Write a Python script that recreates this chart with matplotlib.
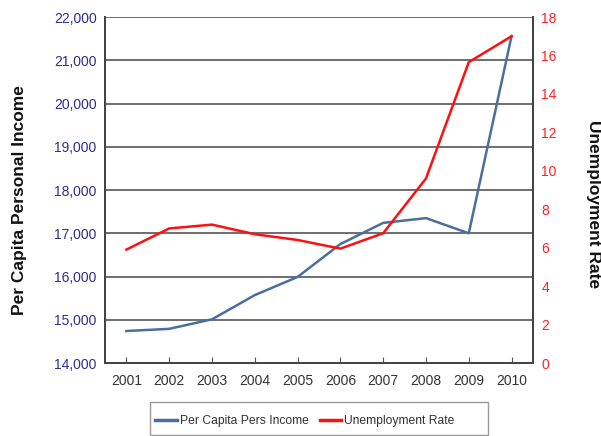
import matplotlib.pyplot as plt
from matplotlib.patches import Rectangle
from matplotlib.ticker import FuncFormatter

plt.rcParams['font.family'] = ['Liberation Sans', 'DejaVu Sans']

years = ['2001', '2002', '2003', '2004', '2005', '2006', '2007', '2008', '2009', '2010']
income = [14740, 14790, 15010, 15570, 15990, 16750, 17240, 17350, 17000, 21560]
unemployment = [5.9, 7.0, 7.2, 6.7, 6.4, 5.95, 6.75, 9.6, 15.65, 17.0]

fig = plt.figure(figsize=(6.01, 4.36), dpi=100)
ax = fig.add_axes([0.1747, 0.1674, 0.7121, 0.7936])
ax2 = ax.twinx()

x = list(range(len(years)))
l1, = ax.plot(x, income, color='#4a6f9f', linewidth=1.8, label='Per Capita Pers Income')
l2, = ax2.plot(x, unemployment, color='#ff1010', linewidth=1.8, label='Unemployment Rate')

ax.set_xlim(-0.5, len(years) - 0.5)
ax.set_ylim(14000, 22000)
ax.set_yticks(range(14000, 22001, 1000))
ax.yaxis.set_major_formatter(FuncFormatter(lambda v, p: f'{int(v):,}'))
ax2.set_ylim(0, 18)
ax2.set_yticks(range(0, 19, 2))

ax.set_xticks(x)
ax.set_xticklabels(years)
ax.grid(axis='y', color='#555555', linewidth=1.2)
ax.set_axisbelow(True)

ax.tick_params(axis='x', direction='in', length=4, colors='#555555', labelcolor='#333333',
               labelsize=10, pad=8)
ax.tick_params(axis='y', length=0, labelcolor='#2e2e8f', labelsize=10, pad=6)
ax2.tick_params(axis='y', length=0, labelcolor='#ff2020', labelsize=10, pad=6)

for a in (ax, ax2):
    a.spines['top'].set_visible(False)
    for s in ('left', 'right', 'bottom'):
        a.spines[s].set_color('#444444')
        a.spines[s].set_linewidth(1.4)

fig.text(0.032, 0.54, 'Per Capita Personal Income', rotation=90, ha='center', va='center',
         fontsize=12.5, fontweight='bold', color='#111111')
fig.text(0.988, 0.532, 'Unemployment Rate', rotation=-90, ha='center', va='center',
         fontsize=12.5, fontweight='bold', color='#111111')

# legend box drawn separately so it can be wider than its entries
fig.patches.append(Rectangle((0.2496, 0.003), 0.5624, 0.0757, transform=fig.transFigure,
                             facecolor='white', edgecolor='#999999', linewidth=1.0))
leg = fig.legend(handles=[l1, l2], loc='center left', bbox_to_anchor=(0.258, 0.0344), ncol=2,
                 fontsize=8.7, frameon=False, handlelength=1.8, borderaxespad=0, borderpad=0,
                 handletextpad=0.25, columnspacing=0.9, labelcolor='#333333')
for line in leg.get_lines():
    line.set_linewidth(2.5)

fig.savefig('out.png', dpi=100)
